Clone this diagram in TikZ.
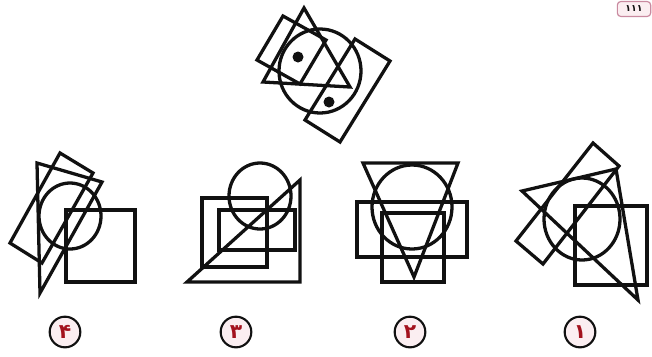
\documentclass[tikz,border=0pt]{standalone}
\usepackage{fontspec}
\newfontfamily\arabicfont[Script=Arabic]{DejaVu Sans}
\TeXXeTstate=1
\definecolor{qInk}{HTML}{111111}
\definecolor{qRed}{HTML}{A3121E}
\definecolor{qPink}{HTML}{FBEEF1}
\definecolor{qTag}{HTML}{C98AA0}
\tikzset{
  fig/.style={draw=qInk, line width=2.8pt, line join=miter},
  dotmark/.style={fill=qInk},
  optnum/.style={
    circle, draw=qInk, line width=1.8pt, fill=qPink, minimum size=0.92cm,
    inner sep=0pt, text=qRed, font=\arabicfont\LARGE\bfseries
  },
  pagetag/.style={
    draw=qTag, line width=1pt, rounded corners=3pt, fill=qPink,
    minimum width=1.0cm, minimum height=0.45cm, inner sep=1pt,
    font=\arabicfont\footnotesize\bfseries, text=qInk
  }
}
\begin{document}
\begin{tikzpicture}[x=0.03cm, y=0.03cm, yscale=-1]
  \useasboundingbox (0,0) rectangle (652,356);

  % question figure
  \draw[fig] (320,71) circle [x radius=41, y radius=42];
  \draw[fig] (283,16) -- (257,60) -- (300,84) -- (326,40) -- cycle;
  \draw[fig] (304,8) -- (263,82) -- (350,87) -- cycle;
  \draw[fig] (355,39) -- (390,61) -- (340,142) -- (305,120) -- cycle;
  \fill[dotmark] (298,57) circle (5.5);
  \fill[dotmark] (329,102) circle (5.5);

  % option 4
  \draw[fig] (66,210) rectangle (135,282);
  \draw[fig] (70,216) circle [x radius=31, y radius=33];
  \draw[fig] (37,163) -- (102,182) -- (40,293) -- cycle;
  \draw[fig] (60,153) -- (93,173) -- (42,263) -- (10,243) -- cycle;

  % option 3
  \draw[fig] (260,196) circle [x radius=31, y radius=33];
  \draw[fig] (202,198) rectangle (267,267);
  \draw[fig] (219,210) rectangle (295,250);
  \draw[fig] (187,282) -- (300,282) -- (300,180) -- cycle;

  % option 2
  \draw[fig] (363,163) -- (458,163) -- (414,277) -- cycle;
  \draw[fig] (412,207) circle [x radius=40, y radius=42];
  \draw[fig] (357,202) rectangle (467,257);
  \draw[fig] (382,213) rectangle (444,282);

  % option 1
  \draw[fig] (575,206) rectangle (647,285);
  \draw[fig] (582,219) circle [x radius=38, y radius=41];
  \draw[fig] (593,143) -- (619,166) -- (543,264) -- (516,241) -- cycle;
  \draw[fig] (522,191) -- (616,169) -- (638,300) -- cycle;

  % option numbers
  \node[optnum] (opt4) at (65,332) {\beginR ۴\endR};
  \node[optnum] (opt3) at (236,332) {\beginR ۳\endR};
  \node[optnum] (opt2) at (410,332) {\beginR ۲\endR};
  \node[optnum] (opt1) at (580,332) {\beginR ۱\endR};

  \node[pagetag] (page) at (634,9) {\beginR ۱۱۱\endR};
\end{tikzpicture}
\end{document}
